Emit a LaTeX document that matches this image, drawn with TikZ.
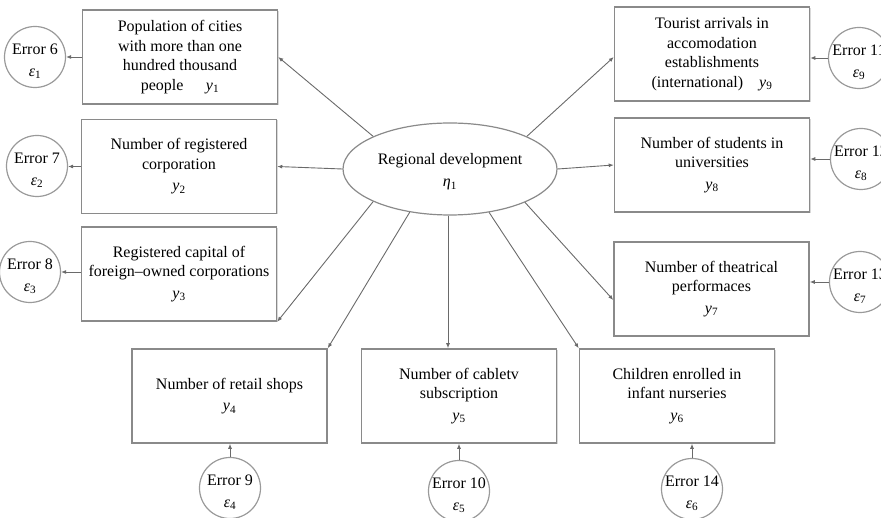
\documentclass[tikz,border=0pt]{standalone}
\usepackage{fontspec}
\setmainfont{Liberation Serif}
\usetikzlibrary{arrows.meta,shapes.geometric,shadows,calc}

\definecolor{boxline}{HTML}{8A8A8A}
\definecolor{linkline}{HTML}{6A6A6A}
\definecolor{ringline}{HTML}{9A9A9A}

% italic symbol with an upright subscript
\newcommand{\symsub}[2]{\textit{#1}\textsubscript{#2}}
% two-line label of an error term, kept narrow so the ring keeps its size
\newcommand{\errlab}[2]{\makebox[0pt]{\rule{0pt}{19pt}Error #1}\\[2pt]\makebox[0pt]{\symsub{ε}{#2}}}

\tikzset{
  indicator/.style={draw=boxline, line width=1.5pt, fill=white, rectangle,
    minimum width=195pt, minimum height=94pt, inner sep=0pt, align=center,
    font=\fontsize{16}{19.5}\selectfont,
    drop shadow={shadow xshift=1pt, shadow yshift=-1pt, fill=black!25, opacity=0.6}},
  latent/.style={draw=boxline, line width=1.2pt, fill=white, ellipse,
    minimum width=214pt, minimum height=92pt, inner sep=0pt, align=center,
    font=\fontsize{16}{22}\selectfont},
  errring/.style={draw=ringline, line width=1.2pt, fill=white, circle,
    minimum size=61pt, inner sep=0pt, align=center,
    font=\fontsize{16}{20}\selectfont},
  link/.style={draw=linkline, line width=0.9pt,
    -{Latex[length=5pt,width=4pt]}},
}

\begin{document}
\begin{tikzpicture}[x=1pt,y=-1pt]
  \useasboundingbox (0,0) rectangle (881,518);

  % central latent construct
  \node[latent] (dev) at (450,169) {\rule{0pt}{17pt}Regional development\\\symsub{η}{1}};

  % observed indicators
  \node[indicator] (b1) at (180,57)
    {Population of cities\\with more than one\\hundred thousand\\people\hspace{1.4em}\symsub{y}{1}};
  \node[indicator] (b2) at (179,166.5)
    {Number of registered\\corporation\\[2pt]\symsub{y}{2}};
  \node[indicator] (b3) at (179,274)
    {Registered capital of\\foreign–owned corporations\\[2pt]\symsub{y}{3}};
  \node[indicator] (b4) at (229.5,396)
    {Number of retail shops\\[2pt]\symsub{y}{4}};
  \node[indicator] (b5) at (459,396)
    {Number of cabletv\\subscription\\[2pt]\symsub{y}{5}};
  \node[indicator] (b6) at (677,396)
    {Children enrolled in\\infant nurseries\\[2pt]\symsub{y}{6}};
  \node[indicator] (b7) at (711.5,289)
    {Number of theatrical\\performaces\\[2pt]\symsub{y}{7}};
  \node[indicator] (b8) at (712,165)
    {Number of students in\\universities\\[2pt]\symsub{y}{8}};
  \node[indicator] (b9) at (712,54)
    {Tourist arrivals in\\accomodation\\establishments\\(international)\hspace{1em}\symsub{y}{9}};

  % error terms
  \node[errring] (e6)  at (35,57)   {\errlab{6}{1}};
  \node[errring] (e7)  at (37,166)  {\errlab{7}{2}};
  \node[errring] (e8)  at (30,272)  {\errlab{8}{3}};
  \node[errring] (e9)  at (230,488) {\errlab{9}{4}};
  \node[errring] (e10) at (459,491) {\errlab{10}{5}};
  \node[errring] (e14) at (692,489) {\errlab{14}{6}};
  \node[errring] (e13) at (860,282) {\errlab{13}{7}};
  \node[errring] (e12) at (861,159) {\errlab{12}{8}};
  \node[errring] (e11) at (859,58)  {\errlab{11}{9}};

  % loadings
  \draw[link] (dev.157) -- (b1.east);
  \draw[link] (dev.180) -- (b2.east);
  \draw[link] (dev.203.5) -- (b3.south east);
  \draw[link] (dev.227) -- (b4.north east);
  \draw[link] ([xshift=-2pt]dev.south) -- ([xshift=-2pt]dev.south |- b5.north);
  \draw[link] (dev.312) -- (b6.north west);
  \draw[link] (dev.336) -- ([yshift=-11pt]b7.west);
  \draw[link] (dev.0) -- (b8.west);
  \draw[link] (dev.23) -- ([yshift=-3pt]b9.west);

  % error links
  \draw[link] (b1.west) -- (b1.west -| e6.east);
  \draw[link] (b2.west) -- (b2.west -| e7.east);
  \draw[link] (b3.west |- e8.east) -- (e8.east);
  \draw[link] (e9.north) -- (e9.north |- b4.south);
  \draw[link] (e10.north) -- (e10.north |- b5.south);
  \draw[link] (e14.north) -- (e14.north |- b6.south);
  \draw[link] (e13.west) -- (e13.west -| b7.east);
  \draw[link] (e12.west) -- (e12.west -| b8.east);
  \draw[link] (e11.west) -- (e11.west -| b9.east);
\end{tikzpicture}
\end{document}
